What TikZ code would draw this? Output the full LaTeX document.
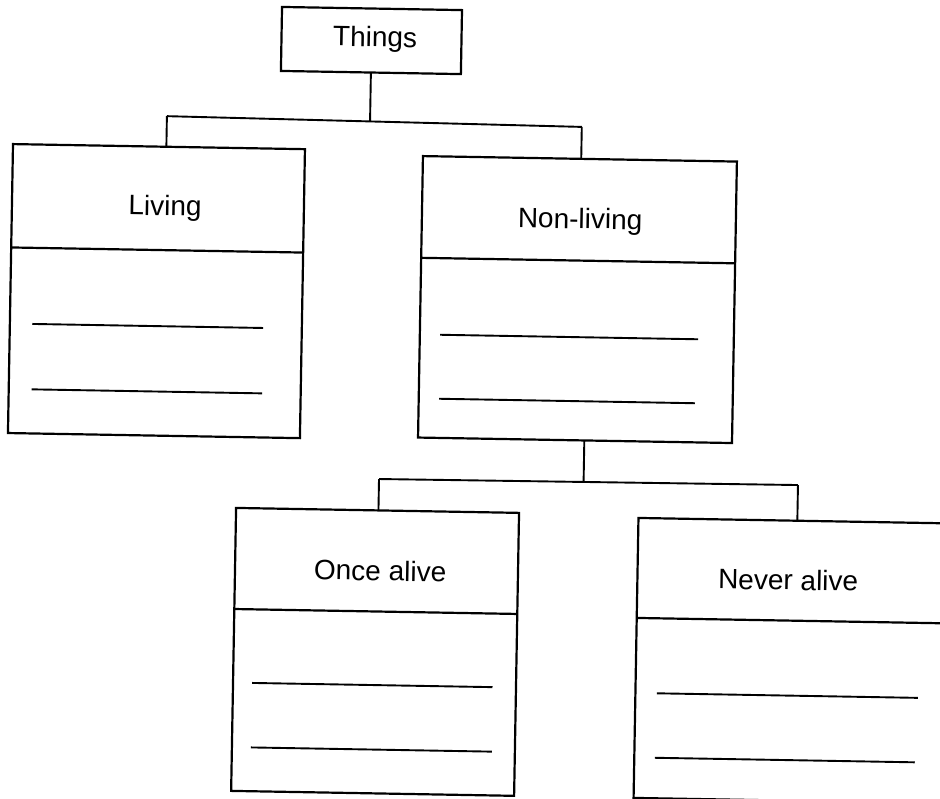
\documentclass[tikz,border=0pt]{standalone}
\usepackage{fontspec}
\setmainfont{Liberation Sans}
\begin{document}
\begin{tikzpicture}[x=1pt,y=-1pt,
  box/.style={draw, line width=2.2pt, inner sep=0pt, outer sep=0pt, transform shape},
  divline/.style={line width=2.2pt},
  inline/.style={line width=1.9pt},
  conn/.style={line width=1.9pt},
  boxtext/.style={font=\fontsize{28}{34}\selectfont, anchor=base, inner sep=0pt, transform shape}]
\useasboundingbox (0,0) rectangle (940,799);
\clip (0,0) rectangle (940,799);
\fill[white] (0,0) rectangle (940,799);
\begin{scope}[rotate around={-1:(470,400)}]
  % Things
  \node[box, minimum width=180pt, minimum height=64pt] (things) at (365.2,42.3) {};
  \node[boxtext] (thingst) at (368.8,48.4) {Things};
  % Living
  \node[box, minimum width=292pt, minimum height=289pt] (living) at (154.6,296.6) {};
  \draw[divline] (8.6,255.5) -- (300.6,255.5);
  \node[boxtext] (livingt) at (161.8,220.8) {Living};
  \draw[inline] (31,331.6) -- (262,331.6);
  \draw[inline] (31.5,397) -- (262,397);
  % Non-living
  \node[box, minimum width=314pt, minimum height=281.5pt] (nonliving) at (575.7,297.7) {};
  \draw[divline] (418.7,258.7) -- (732.7,258.7);
  \node[boxtext] (nonlivingt) at (577,226.6) {Non-living};
  \draw[inline] (439,335.3) -- (697,335.3);
  \draw[inline] (439,399.3) -- (695,399.3);
  % Once alive
  \node[box, minimum width=283pt, minimum height=283pt] (once) at (379.5,653.5) {};
  \draw[divline] (238,613.1) -- (521,613.1);
  \node[boxtext] (oncet) at (383.2,582.2) {Once alive};
  \draw[inline] (257,686.7) -- (497.5,686.7);
  \draw[inline] (257,751.2) -- (498,751.2);
  % Never alive
  \node[box, minimum width=315pt, minimum height=280pt] (never) at (798,655) {};
  \draw[divline] (640.5,615) -- (955.5,615);
  \node[boxtext] (nevert) at (791.3,584.4) {Never alive};
  \draw[inline] (662,690) -- (923,690);
  \draw[inline] (661,754.5) -- (921,754.5);
  % connectors level 1
  \coordinate (t1) at (365.2,123.2);
  \coordinate (l1) at (162,121.5);
  \coordinate (r1) at (577,125);
  \draw[conn] (things.south) -- (t1);
  \draw[conn] (l1) -- (r1);
  \draw[conn] (l1) -- (l1 |- living.north);
  \draw[conn] (r1) -- (r1 |- nonliving.north);
  % connectors level 2
  \coordinate (t2) at (585,480);
  \coordinate (l2) at (380.4,480.6);
  \coordinate (r2) at (799.4,479.3);
  \draw[conn] (t2 |- nonliving.south) -- (t2);
  \draw[conn] (l2) -- (r2);
  \draw[conn] (l2) -- (l2 |- once.north);
  \draw[conn] (r2) -- (r2 |- never.north);
\end{scope}
\end{tikzpicture}
\end{document}
